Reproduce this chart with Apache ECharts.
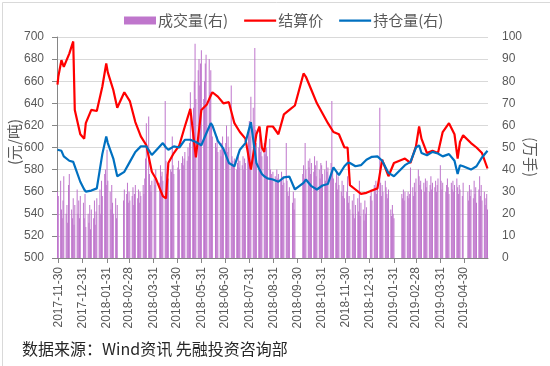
<!DOCTYPE html>
<html><head><meta charset="utf-8">
<script src="https://cdn.jsdelivr.net/npm/echarts@6/dist/echarts.min.js"></script>
<style>html,body{margin:0;padding:0;background:#fff}#c{width:550px;height:366px}</style>
</head><body><div id="c"></div>
<script>
// x-axis: month-end tick labels between these dates
const xStart = '2017-11-30';
const xEnd = '2019-05-31';
const xLastLabel = '2019-04-30';
// exchange holidays (weekdays without trading)
const holidays = ['2018-01-01','2018-02-15','2018-02-16','2018-02-19','2018-02-20','2018-02-21','2018-04-05','2018-04-06','2018-04-30','2018-05-01','2018-06-18','2018-09-24','2018-10-01','2018-10-02','2018-10-03','2018-10-04','2018-10-05','2018-12-31','2019-01-01','2019-02-04','2019-02-05','2019-02-06','2019-02-07','2019-02-08','2019-04-05','2019-05-01','2019-05-02','2019-05-03'];
// daily volume (万手), one sub-list per month, in trading-day order
const volMonths = ['2017-11','2017-12','2018-01','2018-02','2018-03','2018-04','2018-05','2018-06','2018-07','2018-08','2018-09','2018-10','2018-11','2018-12','2019-01','2019-02','2019-03','2019-04','2019-05'];
const volume = [
  [30],
  [28,35,22,18,26,37,20,24,16,33,38,22,18,27,15,24,31,20,26,18,28],
  [25,18,29,14,20,16,24,13,22,18,26,15,21,27,24,31,20,35,28,38,40,33],
  [49,35,30,22,33,25,20,27,18,24,26,31,29,34,25],
  [30,26,28,32,24,29,33,27,31,25,30,28,33,29,36,45,61,64,38,33,30,35],
  [36,33,40,34,42,37,39,35,71,44,38,41,36,40,39,55,42,38],
  [41,44,40,43,46,42,45,48,44,50,46,52,75,60,68,80,97,72,85,90,78,88],
  [94,72,80,88,92,70,90,75,85,60,55,52,50,55,48,49,46,52,55,50],
  [52,60,48,55,50,78,46,44,42,45,40,43,46,41,44,42,46,40,45,43,50,58],
  [62,55,73,68,60,95,58,52,50,56,48,54,46,52,47,55,50,46,54,40,38,36,39],
  [37,34,40,36,38,35,39,33,37,34,52,35,30,28,32,25,30,22,27],
  [38,42,36,52,40,44,41,45,38,43,39,46,42,37,44,40,36,43],
  [42,38,40,35,44,39,41,37,43,71,40,36,34,39,31,37,33,30,35,28,33,27],
  [30,37,25,28,22,26,20,29,18,24,27,21,35,19,25,22,17,26,20,23],
  [28,31,26,33,30,35,29,32,68,34,28,33,30,35,32,29,27,31,22,19,24,20],
  [18,29,27,31,26,30,28,30,27,29,41,32,28,34,30],
  [36,40,37,33,35,31,34,30,36,32,35,30,33,37,31,34,32,35,30,33,36],
  [42,35,31,34,30,33,36,32,29,34,31,35,30,33,36,32,29,33,31,28,34],
  [30,26,33,28,31,27,35,29,32,25,31,37,28,33,26,30,24,27,29,22]
];
// settlement price (元/吨) and open interest (万手)
const lineDates = ['2017-11-30','2017-12-01','2017-12-05','2017-12-08','2017-12-15','2017-12-20','2017-12-22','2017-12-29','2018-01-03','2018-01-05','2018-01-12','2018-01-19','2018-01-26','2018-01-31','2018-02-02','2018-02-09','2018-02-14','2018-02-23','2018-03-02','2018-03-09','2018-03-16','2018-03-23','2018-03-30','2018-04-04','2018-04-13','2018-04-17','2018-04-20','2018-04-27','2018-05-04','2018-05-11','2018-05-18','2018-05-25','2018-06-01','2018-06-08','2018-06-13','2018-06-15','2018-06-22','2018-06-29','2018-07-06','2018-07-13','2018-07-20','2018-07-27','2018-08-03','2018-08-10','2018-08-14','2018-08-17','2018-08-20','2018-08-24','2018-08-31','2018-09-07','2018-09-14','2018-09-21','2018-09-28','2018-10-09','2018-10-12','2018-10-19','2018-10-26','2018-11-02','2018-11-09','2018-11-16','2018-11-23','2018-11-30','2018-12-04','2018-12-07','2018-12-14','2018-12-21','2018-12-28','2019-01-04','2019-01-11','2019-01-17','2019-01-18','2019-01-25','2019-02-01','2019-02-15','2019-02-22','2019-03-01','2019-03-05','2019-03-08','2019-03-15','2019-03-22','2019-03-29','2019-04-04','2019-04-12','2019-04-19','2019-04-23','2019-04-26','2019-04-30','2019-05-10','2019-05-17','2019-05-24','2019-05-31'];
const price = [657,664,679,673,685,696,634,612,608,622,634,633,655,676,668,652,636,650,642,623,610,602,578,572,556,554,586,595,602,619,635,591,634,639,647,650,646,640,641,622,614,608,580,612,619,600,596,619,619,612,630,634,638,667,664,652,640,631,622,614,612,600,600,566,562,558,559,561,563,589,587,574,586,590,586,601,619,608,595,597,595,614,622,612,590,605,611,604,600,595,581];
const openInterest = [49,49.5,48.5,46,44,43.5,43,34.5,31,30,30.5,31.5,47,55,52,45,37,39,43.5,48,50.5,50.5,46.6,48.5,52,50,49,50.5,50,53.5,53.5,52.5,51,57,61,60,53,49.5,43,41.5,49,52,61.5,43,40,38,37,36,35.5,34.5,36.5,36.8,31,34,35.5,32.5,31,32.8,33.5,41,37.5,41.5,43,43,41.5,42,44.5,45.8,46,44,43.5,38.5,37,42,43.5,50,51,47.5,46.5,48,47.3,46,47,44,38,42,41.5,40,41.5,45.5,48.5];

const DAY = 864e5;
function pad(n){return n<10?'0'+n:''+n;}
function fmt(d){return d.getFullYear()+'-'+pad(d.getMonth()+1)+'-'+pad(d.getDate());}
function ts(s){const p=s.split('-');return new Date(+p[0],+p[1]-1,+p[2]).getTime();}
const startT = ts(xStart), endT = ts(xEnd), lastLabelT = ts(xLastLabel);
const tradingByMonth = {};
for (let d = new Date(startT); d.getTime() <= endT; d.setDate(d.getDate()+1)) {
  const wd = d.getDay();
  if (wd === 0 || wd === 6) continue;
  const s = fmt(d);
  if (holidays.indexOf(s) >= 0) continue;
  const k = s.slice(0,7);
  (tradingByMonth[k] = tradingByMonth[k] || []).push(s);
}
const volData = [];
volMonths.forEach((m,i)=>{
  const days = tradingByMonth[m] || [];
  volume[i].forEach((v,j)=>{ if (j < days.length) volData.push([ts(days[j]), v]); });
});
const priceData = lineDates.map((d,i)=>[ts(d), price[i]]);
const oiData = lineDates.map((d,i)=>[ts(d), openInterest[i]]);

const FONT = "'Liberation Sans','Noto Sans CJK SC',sans-serif";
const CJK = "'Noto Sans CJK SC','Liberation Sans',sans-serif";
const LINE_ICON = 'path://M0,0L0,0M0,8L0,8M0,3L32,3L32,5.2L0,5.2Z';
const chart = echarts.init(document.getElementById('c'), null, {renderer:'canvas'});
chart.setOption({
  animation: false,
  backgroundColor: '#fff',
  textStyle: {fontFamily: FONT},
  grid: {left: 57, right: 62, top: 37, bottom: 108, containLabel: false},
  legend: {
    left: 119, top: 8, itemWidth: 32, itemHeight: 8, itemGap: 16,
    textStyle: {fontSize: 15, color: '#595959', fontFamily: CJK, padding: [0,0,0,-3]},
    data: [
      {name: '成交量(右)', icon: 'rect'},
      {name: '结算价', icon: LINE_ICON},
      {name: '持仓量(右)', icon: LINE_ICON}
    ]
  },
  xAxis: {
    type: 'time', min: startT, max: endT, splitNumber: 18,
    minInterval: 28 * DAY, maxInterval: 31 * DAY,
    axisLine: {show: true, lineStyle: {color: '#868686', width: 1}},
    axisTick: {show: true, length: 5, lineStyle: {color: '#868686'}},
    axisLabel: {
      rotate: 90, margin: 9, fontSize: 12, color: '#595959', fontFamily: FONT,
      hideOverlap: false, showMinLabel: false, showMaxLabel: false,
      formatter: function (v) {
        if (v <= startT || v - DAY > lastLabelT) return '';
        return fmt(new Date(v - DAY));
      }
    },
    splitLine: {show: false}
  },
  yAxis: [
    {
      type: 'value', min: 500, max: 700, interval: 20, position: 'left',
      axisLine: {show: true, lineStyle: {color: '#868686'}},
      axisTick: {show: true, length: 5, lineStyle: {color: '#868686'}},
      axisLabel: {fontSize: 12, color: '#595959', margin: 13, fontFamily: FONT},
      splitLine: {show: true, lineStyle: {color: '#d9d9d9', width: 1}}
    },
    {
      type: 'value', min: 0, max: 100, interval: 10, position: 'right',
      axisLine: {show: false}, axisTick: {show: false},
      axisLabel: {fontSize: 12, color: '#595959', margin: 14, fontFamily: FONT},
      splitLine: {show: false}
    }
  ],
  series: [
    {name: '成交量(右)', type: 'bar', yAxisIndex: 1, data: volData, barWidth: 1,
     itemStyle: {color: '#BF76CC'}, z: 1},
    {name: '结算价', type: 'line', yAxisIndex: 0, data: priceData, showSymbol: false, symbol: 'none',
     lineStyle: {color: '#FF0000', width: 2.2}, itemStyle: {color: '#FF0000'}, z: 3},
    {name: '持仓量(右)', type: 'line', yAxisIndex: 1, data: oiData, showSymbol: false, symbol: 'none',
     lineStyle: {color: '#0070C0', width: 2.2}, itemStyle: {color: '#0070C0'}, z: 4}
  ],
  graphic: [
    {type: 'rect', left: 0, top: 0, shape: {width: 549, height: 365}, style: {fill: 'none', stroke: '#d9d9d9', lineWidth: 1}, silent: true},
    {type: 'text', x: 14, y: 142, rotation: Math.PI/2, style: {text: '(元/吨)', fill: '#595959', font: "15px 'Noto Sans CJK SC'", align: 'center', verticalAlign: 'middle'}},
    {type: 'text', x: 531, y: 157, rotation: -Math.PI/2, style: {text: '(万手)', fill: '#595959', font: "15px 'Noto Sans CJK SC'", align: 'center', verticalAlign: 'middle'}},
    {type: 'text', left: 22, top: 341, style: {text: '数据来源：Wind资讯 先融投资咨询部', fill: '#262626', font: "16px 'Noto Sans CJK SC'"}}
  ]
});
</script>
</body></html>
